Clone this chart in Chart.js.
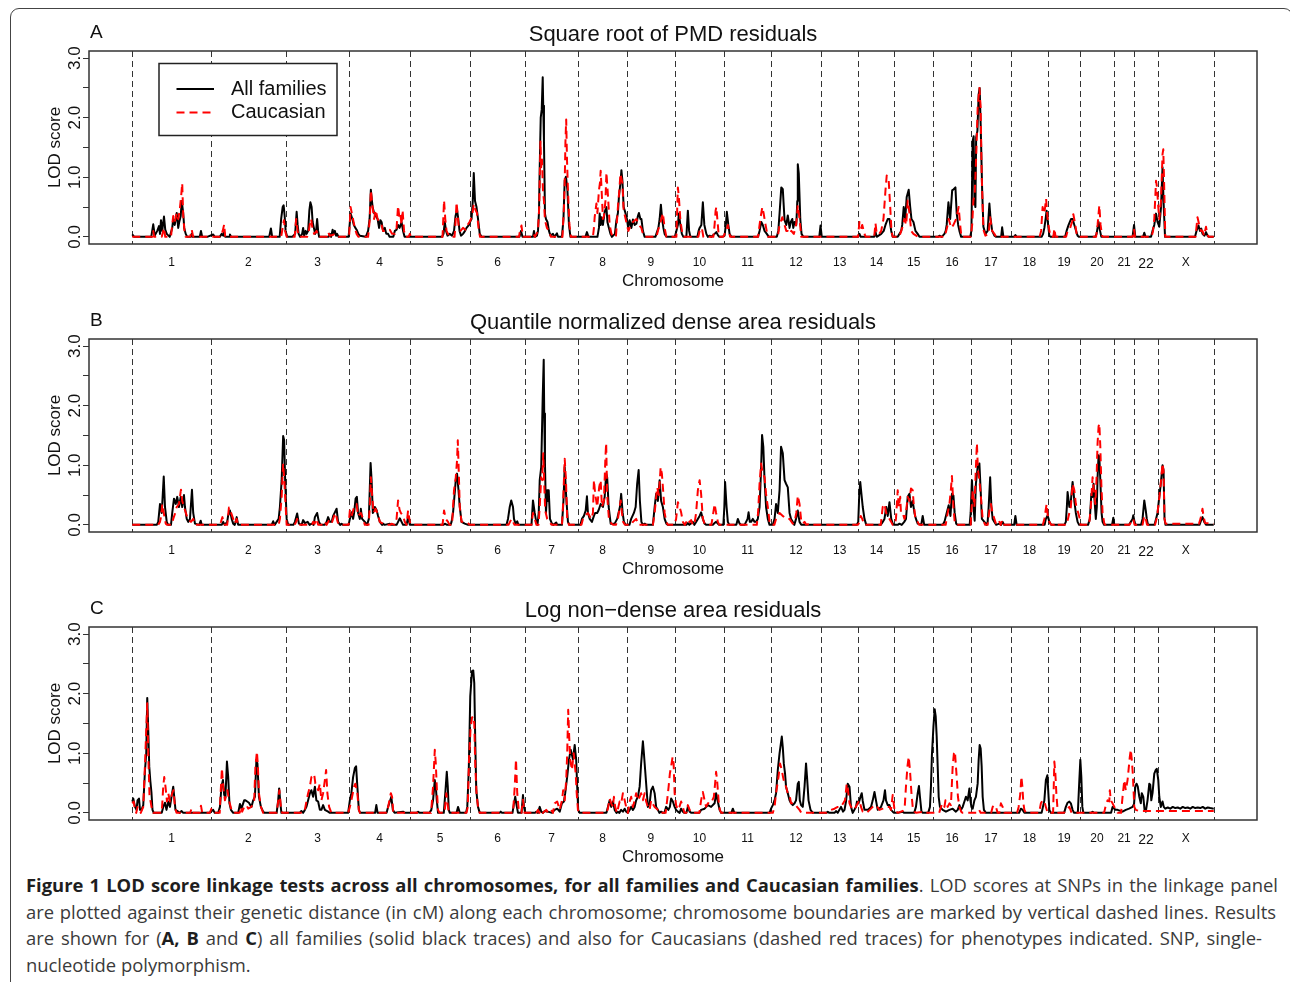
<!DOCTYPE html>
<html>
<head>
<meta charset="utf-8">
<script src="https://cdn.jsdelivr.net/npm/chart.js@4.4.0/dist/chart.umd.min.js"></script>
<style>
  body { margin: 0; width: 1290px; height: 982px; overflow: hidden; position: relative; background: #fff; }
  .frame { position: absolute; left: 10px; top: 8px; width: 1283px; height: 1000px; box-sizing: border-box;
           border: 1.5px solid #444; border-radius: 9px; }
  .panel { position: absolute; left: 0; width: 1290px; height: 288px; }
  #caption { position: absolute; left: 26px; top: 872px; font-family: "Open Sans", sans-serif; font-size: 18.4px;
             line-height: 26.5px; color: #3a3a3a; }
  #caption b { color: #1e1e1e; }
  .ln { white-space: nowrap; text-align: justify; text-align-last: justify; }
  .l1 { width: 1252px; } .l2 { width: 1250px; } .l3 { width: 1236px; }
  .l4 { text-align: left; text-align-last: left; }
</style>
</head>
<body>
<div class="frame"></div>
<div class="panel" style="top:0"><canvas id="pA" width="1290" height="288"></canvas></div>
<div class="panel" style="top:288px"><canvas id="pB" width="1290" height="288"></canvas></div>
<div class="panel" style="top:576px"><canvas id="pC" width="1290" height="288"></canvas></div>
<div id="caption">
  <div class="ln l1"><b>Figure 1 LOD score linkage tests across all chromosomes, for all families and Caucasian families</b>. LOD scores at SNPs in the linkage panel</div>
  <div class="ln l2">are plotted against their genetic distance (in cM) along each chromosome; chromosome boundaries are marked by vertical dashed lines. Results</div>
  <div class="ln l3">are shown for (<b>A, B</b> and <b>C</b>) all families (solid black traces) and also for Caucasians (dashed red traces) for phenotypes indicated. SNP, single-</div>
  <div class="ln l4">nucleotide polymorphism.</div>
</div>
<script>
// chromosomes and their lengths (cM) as laid out along the x axis
const chromNames = ['1','2','3','4','5','6','7','8','9','10','11','12','13','14','15','16','17','18','19','20','21','22','X'];
const chromLengths = [315,299,255,243,240,220,214,194,191,199,186,201,150,144,154,153,159,149,128,135,82,94,224];
const yTicks = [0, 0.5, 1, 1.5, 2, 2.5, 3];
const yLabelTicks = [0, 1, 2, 3];
const panelLetters = ['A', 'B', 'C'];
const panelTitles = ['Square root of PMD residuals', 'Quantile normalized dense area residuals', 'Log non\u2212dense area residuals'];
const seriesNames = ['All families', 'Caucasian'];

// [genome position cM, LOD]  panel A - square root of PMD residuals
const pmdAll = [[0,0.04],[8,0],[76,0],[84,0.21],[90,0.02],[100,0.1],[107,0.18],[111,0.05],[115,0.28],[120,0.1],[127,0.34],[132,0.12],[138,0.05],[150,0],[160,0.15],[164,0.3],[170,0.2],[178,0.4],[184,0.15],[188,0.25],[194,0.35],[198,0.6],[204,0.4],[208,0.15],[214,0.05],[220,0],[234,0],[238,0.05],[242,0],[270,0],[275,0.1],[280,0],
[300,0],[324,0.04],[330,0],[350,0],[358,0.05],[364,0.02],[368,0.08],[372,0],[388,0],[391,0.04],[396,0],[548,0],[555,0.14],[560,0],[590,0],[596,0.3],[602,0.5],[606,0.53],[610,0.35],[614,0.1],[620,0],
[640,0],[652,0.05],[658,0.42],[662,0.2],[666,0.05],[672,0],[680,0.05],[684,0.15],[688,0.02],[694,0.1],[698,0.05],[704,0.1],[709,0.45],[713,0.58],[718,0.5],[722,0.25],[727,0.15],[732,0.05],[736,0.1],[740,0.3],[744,0.1],[748,0],[786,0],[791,0.05],[796,0],[802,0.12],[806,0.05],[811,0.1],[816,0.02],[820,0.05],[826,0],
[866,0],[874,0.39],[881,0.3],[887,0.2],[893,0.15],[898,0.12],[905,0.05],[911,0.02],[935,0],[944,0.1],[950,0.3],[955,0.79],[962,0.5],[968,0.4],[975,0.35],[982,0.3],[988,0.15],[993,0.28],[998,0.25],[1004,0.1],[1011,0.15],[1017,0.05],[1024,0.05],[1030,0],[1045,0],[1051,0.1],[1058,0.12],[1064,0.2],[1070,0.15],[1078,0.25],[1084,0.1],[1090,0],
[1240,0],[1246,0.05],[1251,0.25],[1256,0.1],[1262,0.02],[1271,0.05],[1280,0.02],[1288,0.1],[1294,0.35],[1300,0.45],[1305,0.3],[1310,0.1],[1316,0.02],[1324,0.05],[1332,0.1],[1338,0.15],[1348,0.2],
[1352,0.25],[1358,0.3],[1363,0.6],[1367,1.07],[1372,0.6],[1378,0.5],[1384,0.3],[1391,0.05],[1398,0],[1550,0],[1556,0.1],[1562,0],
[1575,0],[1604,0],[1608,0.1],[1612,0],[1620,0.02],[1624,0.1],[1628,0.4],[1631,1.17],[1635,2.0],[1639,2.14],[1643,2.68],[1645,2.2],[1648,1.6],[1652,0.39],[1656,0.3],[1662,0.25],[1668,0.1],[1674,0.02],[1684,0.05],[1690,0],[1700,0.06],[1704,0],[1720,0],[1726,0.3],[1731,0.95],[1736,1.01],[1742,0.78],[1748,0.2],[1754,0],
[1814,0],[1820,0.08],[1826,0],[1862,0],[1868,0.15],[1871,0.39],[1875,0.2],[1878,0.33],[1884,0.2],[1891,0.42],[1898,0.5],[1902,0.25],[1908,0.15],[1914,0.05],[1920,0],[1932,0.05],[1938,0.28],[1944,0.4],[1948,0.67],[1954,0.9],[1958,1.12],[1962,0.94],[1967,0.5],[1975,0.39],[1980,0.3],
[1985,0.15],[1991,0.28],[1998,0.15],[2004,0.29],[2011,0.2],[2018,0.22],[2024,0.35],[2028,0.4],[2034,0.3],[2038,0.3],[2044,0.1],[2051,0],[2094,0],[2098,0.05],[2106,0.15],[2111,0.3],[2116,0.54],[2121,0.3],[2126,0.15],[2131,0.05],[2138,0],
[2172,0],[2178,0.1],[2184,0.2],[2188,0.39],[2194,0.2],[2200,0.05],[2206,0],[2218,0],[2224,0.44],[2229,0.1],[2234,0],[2262,0],[2267,0.1],[2271,0.15],[2278,0.2],[2284,0.58],[2290,0.2],[2298,0.05],[2304,0],[2311,0.02],[2318,0],[2331,0.05],[2338,0.08],[2344,0.03],[2350,0],
[2360,0],[2371,0.02],[2376,0.2],[2380,0.42],[2386,0.2],[2391,0.05],[2398,0],[2505,0],[2511,0.1],[2518,0.25],[2524,0.2],[2531,0.1],[2540,0.05],[2548,0],
[2580,0],[2586,0.1],[2591,0.39],[2598,0.83],[2604,0.8],[2611,0.28],[2618,0.2],[2624,0.36],[2631,0.15],[2636,0.25],[2642,0.3],[2646,0.15],[2651,0.25],[2658,0.2],[2662,0.6],[2664,1.22],[2668,1.06],[2674,0.3],[2679,0.05],[2686,0],
[2750,0],[2755,0.19],[2760,0],
[2905,0],[2911,0.05],[2916,0],[2970,0],[2975,0.08],[2980,0],[2998,0.05],[3008,0.1],[3015,0.2],[3024,0.3],[3031,0.3],[3038,0.1],[3044,0],
[3064,0],[3071,0.05],[3078,0.1],[3082,0.2],[3088,0.5],[3094,0.3],[3100,0.67],[3108,0.79],[3114,0.5],[3119,0.3],[3127,0.25],[3135,0.1],[3144,0.05],[3151,0],
[3225,0],[3231,0.02],[3240,0],[3251,0.05],[3256,0.1],[3260,0.2],[3267,0.58],[3274,0.3],[3282,0.78],[3288,0.8],[3295,0.83],[3300,0.4],[3306,0.2],[3311,0.1],[3318,0],
[3354,0],[3359,0.1],[3364,1.61],[3368,1.69],[3371,0.6],[3375,0.5],[3378,1.67],[3383,1.78],[3388,2.39],[3392,2.5],[3396,1.89],[3402,0.78],[3407,0.17],[3415,0.05],[3424,0.1],[3431,0.56],[3435,0.33],[3442,0.1],[3451,0.02],[3458,0],[3478,0],[3482,0.16],[3487,0],
[3530,0],[3535,0.03],[3540,0],[3640,0],[3646,0.05],[3651,0.15],[3656,0.3],[3660,0.44],[3666,0.2],[3671,0.02],[3676,0],
[3734,0],[3740,0.1],[3748,0.2],[3758,0.3],[3764,0.3],[3771,0.2],[3778,0.1],[3784,0.02],[3790,0],
[3854,0],[3860,0.05],[3868,0.25],[3874,0.1],[3879,0],
[4004,0],[4010,0.2],[4015,0],
[4046,0],[4051,0.07],[4056,0],[4078,0],[4084,0.1],[4091,0.2],[4098,0.39],[4104,0.25],[4111,0.17],[4118,0.5],[4124,1.17],[4128,0.6],[4134,0],
[4254,0],[4260,0.1],[4268,0.19],[4274,0.1],[4279,0.14],[4284,0.05],[4292,0.02],[4298,0.08],[4304,0.02],[4310,0],[4329,0]];

const pmdCau = [[0,0],[80,0],[84,0.1],[88,0],[118,0],[127,0.15],[132,0],[155,0],[160,0.2],[164,0.35],[170,0.25],[178,0.4],[184,0.3],[190,0.45],[196,0.7],[200,0.9],[204,0.35],[210,0.05],[214,0],[232,0],[238,0.12],[244,0],
[355,0],[362,0.1],[368,0.21],[372,0],[596,0],[602,0.15],[607,0.28],[612,0.1],[618,0],
[650,0],[656,0.3],[662,0.1],[668,0],[700,0],[706,0.08],[712,0.25],[716,0.3],[722,0.12],[728,0.05],[738,0.1],[744,0],[778,0],[784,0.08],[790,0.02],[808,0.04],[814,0],
[868,0],[874,0.5],[881,0.35],[891,0.15],[898,0.05],[905,0],[944,0],[951,0.3],[955,0.78],[962,0.5],[968,0.3],[975,0.45],[982,0.3],[990,0.25],[998,0.2],[1004,0.1],[1011,0.1],[1024,0.1],[1031,0.12],[1040,0.05],[1051,0.05],[1058,0.15],[1064,0.52],[1070,0.3],[1074,0.35],[1078,0.2],[1082,0.45],[1088,0.1],[1094,0],[1106,0],[1111,0.05],[1116,0],
[1242,0],[1248,0.61],[1253,0.3],[1258,0.1],[1264,0.05],[1270,0],[1290,0],[1295,0.3],[1298,0.58],[1302,0.4],[1306,0.2],[1314,0.1],[1324,0.15],[1334,0.12],[1342,0.2],[1350,0.25],
[1356,0.3],[1362,0.4],[1367,0.55],[1374,0.45],[1380,0.4],[1386,0.15],[1392,0],[1548,0],[1552,0.1],[1558,0.19],[1562,0.05],[1566,0],
[1600,0],[1606,0.05],[1612,0],[1624,0.1],[1629,0.5],[1634,1.6],[1637,1.17],[1640,1.3],[1644,0.78],[1648,0.6],[1652,0.28],[1660,0.15],[1668,0.1],[1676,0],[1722,0],[1728,0.5],[1731,0.9],[1734,1.6],[1737,1.97],[1740,1.33],[1744,0.78],[1750,0.2],[1756,0],
[1844,0],[1848,0.15],[1851,0.33],[1858,0.56],[1862,0.4],[1868,0.78],[1872,0.9],[1875,1.11],[1880,0.67],[1884,0.3],[1888,0.35],[1894,0.6],[1898,1.08],[1904,0.7],[1911,0.2],[1918,0.05],[1926,0],[1936,0],[1944,0.5],[1950,0.8],[1954,1.06],[1962,0.9],[1967,0.44],[1975,0.3],[1980,0.2],
[1986,0.1],[1991,0.15],[2004,0.25],[2018,0.3],[2028,0.2],[2038,0.15],[2044,0.05],[2052,0],[2098,0],[2104,0.1],[2111,0.2],[2118,0.3],[2124,0.4],[2131,0.15],[2138,0],
[2178,0],[2184,0.83],[2188,0.67],[2194,0.28],[2202,0.05],[2208,0],[2266,0],[2271,0.1],[2280,0.15],[2286,0],[2326,0],[2331,0.2],[2335,0.44],[2338,0.5],[2342,0.3],[2348,0],
[2366,0],[2371,0.05],[2378,0.1],[2384,0.2],[2393,0],[2505,0],[2511,0.2],[2516,0.35],[2522,0.5],[2527,0.4],[2535,0.2],[2544,0],
[2584,0],[2591,0.2],[2598,0.28],[2602,0.33],[2611,0.2],[2618,0.1],[2624,0.1],[2631,0.05],[2638,0.1],[2648,0.05],[2655,0.15],[2660,0.3],[2664,0.53],[2671,0.3],[2678,0],
[2905,0],[2911,0.25],[2918,0.15],[2922,0.2],[2931,0.05],[2936,0],[2970,0],[2975,0.23],[2980,0.05],[2990,0.05],[2998,0.1],[3007,0.3],[3015,0.78],[3020,1.03],[3028,0.94],[3034,0.5],[3039,0.1],[3044,0],
[3070,0],[3078,0.1],[3086,0.2],[3091,0.3],[3098,0.2],[3104,0.61],[3111,0.4],[3118,0.1],[3127,0.05],[3138,0.02],[3146,0],
[3252,0],[3258,0.1],[3264,0.2],[3268,0.3],[3278,0.15],[3287,0.2],[3298,0.3],[3303,0.4],[3308,0.5],[3314,0.2],[3319,0],
[3356,0],[3362,0.2],[3367,0.61],[3372,0.72],[3378,1.33],[3384,2.17],[3391,2.5],[3396,2.17],[3400,1.06],[3407,0.12],[3415,0.02],[3428,0.05],[3434,0.33],[3442,0.1],[3451,0.05],[3458,0],
[3632,0],[3638,0.1],[3644,0.5],[3651,0.39],[3658,0.64],[3664,0.3],[3671,0.1],[3678,0],[3687,0],[3691,0.14],[3696,0],
[3738,0],[3744,0.1],[3754,0.15],[3762,0.25],[3767,0.38],[3775,0.2],[3780,0.05],[3786,0],
[3858,0],[3864,0.2],[3871,0.53],[3876,0.2],[3882,0.02],[3886,0],
[4005,0],[4010,0.12],[4014,0],
[4080,0],[4086,0.1],[4091,0.3],[4098,0.94],[4102,0.83],[4107,0.5],[4111,0.3],[4118,0.61],[4124,1.39],[4127,1.47],[4131,0.78],[4135,0],
[4256,0],[4264,0.33],[4271,0.2],[4278,0.1],[4284,0.1],[4290,0.02],[4298,0.17],[4303,0.05],[4308,0],[4329,0]];

// panel B - quantile normalized dense area residuals
const qndAll = [[0,0],[98,0],[104,0.05],[111,0.35],[118,0.2],[126,0.81],[131,0.3],[138,0.05],[144,0],[155,0],[160,0.2],[167,0.44],[174,0.35],[180,0.47],[187,0.3],[194,0.47],[200,0.3],[207,0.5],[211,0.3],[218,0.1],[224,0.05],[231,0.1],[239,0.59],[244,0.2],[251,0.02],[268,0],[274,0.07],[278,0],
[358,0],[364,0.05],[370,0],[380,0.05],[384,0.16],[391,0.24],[398,0.1],[404,0.02],[410,0],[414,0.05],[418,0.13],[424,0],[558,0],[564,0.06],[570,0],[578,0.05],[586,0.1],[591,0.3],[598,0.75],[604,1.49],[608,1.42],[612,0.75],[618,0.1],[624,0],
[645,0],[651,0.05],[660,0.19],[667,0.02],[678,0],[684,0.08],[691,0.03],[702,0.05],[710,0],[718,0.02],[726,0],[731,0.13],[740,0.2],[747,0.05],[754,0],[771,0],[778,0.05],[784,0.13],[791,0.05],[798,0.05],[804,0.15],[811,0.21],[818,0.27],[824,0.05],[832,0],[838,0.02],[844,0],
[866,0],[871,0.1],[878,0.21],[884,0.1],[888,0.2],[894,0.44],[899,0.47],[904,0.2],[911,0.1],[915,0.27],[920,0.1],[931,0.05],[940,0],[947,0.1],[954,1.04],[958,0.75],[963,0.2],[971,0.3],[978,0.25],[984,0.15],[991,0.05],[1000,0],[1004,0.02],[1010,0],[1031,0.02],[1036,0],[1058,0],[1064,0.05],[1071,0.11],[1078,0.05],[1084,0],[1098,0],[1104,0.13],[1111,0],
[1245,0],[1251,0.02],[1260,0],[1274,0],[1278,0.05],[1284,0.2],[1290,0.5],[1295,0.75],[1300,0.86],[1306,0.58],[1311,0.3],[1318,0.05],[1331,0.02],[1344,0],
[1498,0],[1504,0.1],[1511,0.3],[1517,0.41],[1524,0.3],[1528,0.1],[1534,0.02],[1541,0.06],[1546,0],
[1598,0],[1604,0.41],[1611,0.2],[1617,0.05],[1622,0],[1627,0.2],[1631,0.75],[1637,0.97],[1643,2.15],[1647,2.77],[1649,1.87],[1652,1.03],[1656,0.2],[1661,0.58],[1664,0.4],[1667,0.58],[1672,0.1],[1680,0.02],[1686,0],[1697,0.04],[1701,0],[1720,0],[1726,0.4],[1731,0.97],[1737,0.47],[1744,0.05],[1750,0],
[1794,0],[1800,0.1],[1808,0.15],[1815,0.24],[1820,0.48],[1824,0.2],[1831,0.1],[1840,0.05],[1848,0.15],[1853,0.2],[1861,0.2],[1867,0.25],[1875,0.35],[1884,0.3],[1891,0.47],[1897,0.86],[1901,0.8],[1907,0.3],[1915,0.02],[1931,0.02],[1941,0.1],[1952,0.3],[1957,0.52],[1963,0.2],[1968,0.05],[1975,0],
[1990,0],[1997,0.1],[2008,0.2],[2015,0.3],[2021,0.69],[2027,0.92],[2032,0.4],[2038,0.05],[2044,0],[2051,0.02],[2058,0],[2084,0],[2091,0.3],[2097,0.52],[2104,0.4],[2111,0.75],[2117,0.4],[2124,0.3],[2131,0.1],[2138,0.02],[2144,0],
[2218,0],[2224,0.03],[2230,0],[2244,0.05],[2250,0],[2257,0.05],[2264,0.1],[2271,0.15],[2277,0.21],[2284,0.1],[2291,0.02],[2298,0],[2324,0],[2331,0.03],[2337,0.05],[2344,0.02],[2350,0],[2366,0],[2370,0.3],[2373,0.72],[2379,0.3],[2384,0.05],[2390,0],
[2418,0],[2424,0.1],[2431,0.02],[2438,0],[2451,0],[2457,0.05],[2463,0.1],[2467,0.21],[2472,0.05],[2477,0.05],[2484,0.1],[2491,0.05],[2497,0.05],[2504,0.1],[2511,0.3],[2517,0.92],[2521,1.51],[2526,1.31],[2531,0.75],[2537,0.3],[2544,0.1],[2551,0],
[2564,0],[2571,0.1],[2577,0.35],[2584,0.2],[2591,0.58],[2597,1.31],[2604,1.2],[2611,0.75],[2617,0.69],[2624,0.63],[2631,0.2],[2637,0.1],[2644,0.05],[2650,0],[2657,0.1],[2664,0.24],[2671,0.05],[2678,0],
[2900,0],[2906,0.05],[2910,0.5],[2914,0.72],[2918,0.55],[2924,0.3],[2931,0.1],[2938,0],
[2996,0],[3004,0.05],[3011,0.1],[3018,0.3],[3024,0.15],[3031,0.38],[3038,0.1],[3044,0.02],[3050,0],
[3064,0],[3071,0.02],[3080,0],[3090,0.05],[3097,0.1],[3104,0.47],[3111,0.52],[3117,0.3],[3124,0.4],[3131,0.2],[3137,0.1],[3144,0.02],[3158,0],[3164,0.15],[3170,0],
[3244,0],[3251,0.05],[3260,0.2],[3268,0.33],[3275,0.15],[3281,0.52],[3287,0.49],[3292,0.2],[3298,0.02],[3304,0],
[3352,0],[3356,0.2],[3361,0.75],[3367,0.3],[3372,0.07],[3377,0.69],[3384,0.97],[3391,1.03],[3396,0.58],[3401,0.1],[3411,0.05],[3420,0],[3424,0.05],[3428,0.3],[3434,0.8],[3439,0.3],[3444,0.1],[3451,0.05],[3458,0],[3471,0.02],[3478,0],[3484,0.05],[3490,0],
[3530,0],[3535,0.15],[3540,0],[3652,0],[3657,0.1],[3664,0.16],[3671,0.05],[3678,0],
[3731,0],[3737,0.05],[3741,0.3],[3744,0.55],[3751,0.3],[3757,0.4],[3764,0.72],[3771,0.4],[3777,0.2],[3784,0.05],[3790,0],
[3826,0],[3833,0.1],[3839,0.52],[3844,0.47],[3848,0.69],[3852,0.4],[3857,0.1],[3861,0.3],[3864,0.8],[3868,1.17],[3871,1.14],[3875,0.75],[3880,0.2],[3884,0.05],[3890,0],[3922,0],[3927,0.12],[3931,0],
[3990,0],[3997,0.05],[4004,0.1],[4007,0.16],[4012,0.05],[4016,0],
[4038,0],[4044,0.1],[4051,0.41],[4057,0.24],[4061,0.1],[4066,0],[4092,0],[4098,0.1],[4104,0.2],[4111,0.47],[4117,0.69],[4124,1.0],[4128,0.92],[4132,0.1],[4136,0],
[4272,0],[4278,0.07],[4284,0.13],[4291,0.05],[4298,0],[4329,0]];

const qndCau = [[0,0],[104,0],[111,0.05],[116,0.15],[120,0.35],[126,0.2],[134,0.02],[140,0],[158,0],[164,0.1],[172,0.2],[178,0.3],[187,0.35],[195,0.59],[200,0.4],[211,0.25],[222,0.1],[235,0.05],[244,0.1],[251,0],
[350,0],[355,0.05],[361,0.13],[366,0.03],[371,0],[380,0],[387,0.29],[395,0.21],[404,0.1],[410,0.02],[418,0.1],[424,0],[586,0],[591,0.1],[598,0.47],[604,1.03],[608,0.8],[612,0.47],[618,0],
[650,0],[656,0.05],[660,0.1],[666,0],[720,0],[724,0.05],[730,0.02],[738,0.1],[744,0],[766,0],[771,0.05],[778,0],[791,0.1],[800,0.05],[808,0.15],[814,0.2],[822,0.05],[828,0],
[866,0],[871,0.24],[878,0.15],[888,0.3],[898,0.35],[904,0.15],[915,0.2],[924,0.1],[931,0],[946,0],[951,0.3],[955,0.8],[960,0.5],[966,0.2],[974,0.27],[982,0.19],[991,0.05],[1004,0.02],[1012,0],[1032,0],[1038,0.02],[1050,0],[1058,0.1],[1064,0.41],[1070,0.25],[1075,0.2],[1084,0.15],[1091,0.05],[1098,0],[1104,0.24],[1111,0.05],[1116,0],
[1242,0],[1248,0.24],[1255,0.1],[1264,0.05],[1270,0],[1280,0],[1284,0.3],[1288,0.58],[1295,0.8],[1300,1.08],[1303,1.42],[1306,1.03],[1311,0.3],[1318,0.05],[1331,0.05],[1338,0.05],[1351,0],
[1506,0],[1512,0.05],[1518,0.1],[1524,0.05],[1530,0],
[1598,0],[1604,0.2],[1611,0.1],[1618,0],[1626,0],[1631,0.3],[1637,0.8],[1641,0.75],[1645,1.2],[1649,0.69],[1653,0.24],[1661,0.1],[1671,0.05],[1678,0],[1720,0],[1724,0.3],[1731,1.11],[1736,0.75],[1741,0.1],[1748,0],
[1798,0],[1804,0.1],[1811,0.15],[1824,0.2],[1837,0.1],[1844,0.2],[1848,0.75],[1853,0.52],[1861,0.3],[1869,0.63],[1875,0.75],[1880,0.3],[1888,0.4],[1894,1.14],[1897,1.37],[1901,0.5],[1908,0.1],[1918,0.02],[1926,0],[1936,0],[1944,0.1],[1955,0.41],[1960,0.2],[1965,0.05],[1972,0],
[1998,0],[2004,0.05],[2017,0.1],[2026,0],[2084,0],[2091,0.2],[2101,0.63],[2108,0.5],[2115,0.97],[2120,0.86],[2125,0.58],[2131,0.2],[2138,0.05],[2144,0],
[2170,0],[2177,0.1],[2184,0.38],[2191,0.3],[2197,0.21],[2204,0.05],[2212,0],[2224,0.1],[2231,0.05],[2237,0.08],[2244,0],[2250,0],[2257,0.2],[2264,0.58],[2271,0.75],[2277,0.52],[2284,0.1],[2291,0.02],[2298,0],[2318,0],[2324,0.15],[2331,0.35],[2337,0.2],[2344,0.05],[2350,0],
[2500,0],[2505,0.2],[2511,0.69],[2517,1.03],[2524,0.86],[2531,0.8],[2537,0.52],[2544,0.3],[2551,0.05],[2556,0],
[2570,0],[2577,0.1],[2591,0.2],[2604,0.15],[2617,0.1],[2631,0.1],[2644,0.02],[2651,0.05],[2658,0.2],[2664,0.49],[2671,0.35],[2677,0.1],[2684,0.02],[2691,0.05],[2698,0],[2711,0.02],[2718,0],
[2905,0],[2912,0.05],[2916,0.15],[2922,0.1],[2930,0],
[2996,0],[3004,0.3],[3011,0.35],[3018,0.2],[3024,0.15],[3031,0.1],[3038,0.05],[3044,0],
[3052,0],[3057,0.1],[3064,0.58],[3068,0.3],[3074,0.47],[3077,0.2],[3084,0.2],[3091,0.1],[3097,0.2],[3104,0.47],[3111,0.4],[3117,0.61],[3124,0.58],[3128,0.35],[3135,0.1],[3144,0.05],[3150,0],
[3256,0],[3264,0.2],[3271,0.35],[3277,0.6],[3281,0.82],[3287,0.3],[3292,0.05],[3298,0],
[3356,0],[3364,0.58],[3371,0.3],[3377,0.97],[3381,1.37],[3385,0.92],[3391,0.75],[3397,0.47],[3404,0.1],[3414,0],[3424,0],[3431,0.24],[3437,0.35],[3444,0.19],[3451,0.1],[3457,0.02],[3466,0],[3471,0.05],[3476,0],[3482,0.08],[3487,0.02],[3492,0],
[3645,0],[3651,0.1],[3660,0.35],[3666,0.1],[3671,0.05],[3678,0],[3692,0],[3697,0.03],[3702,0],
[3740,0],[3751,0.2],[3757,0.3],[3764,0.69],[3771,0.58],[3777,0.35],[3784,0.24],[3791,0.13],[3796,0],
[3830,0],[3837,0.3],[3844,0.8],[3849,0.58],[3855,0.35],[3860,0.8],[3864,1.37],[3868,1.65],[3871,1.7],[3875,1.31],[3879,0.69],[3884,0.2],[3891,0.02],[3896,0],
[3992,0],[3998,0.05],[4007,0.1],[4012,0],
[4044,0],[4051,0.15],[4057,0.1],[4062,0],[4094,0],[4100,0.1],[4104,0.2],[4111,0.45],[4117,0.7],[4124,1.03],[4128,0.9],[4132,0.1],[4136,0.02],
[4200,0.02],[4270,0.02],[4276,0.1],[4284,0.27],[4288,0.15],[4294,0.03],[4329,0.02]];

// panel C - log non-dense area residuals
const lndAll = [[0,0.19],[4,0.24],[11,0.1],[17,0.05],[21,0.21],[27,0.24],[31,0.05],[37,0.05],[44,0.13],[51,0.72],[56,1.0],[60,1.93],[64,1.39],[68,0.78],[72,0.55],[77,0.33],[81,0.05],[86,0],[118,0],[124,0.1],[131,0.17],[137,0.05],[144,0.19],[151,0.1],[157,0.27],[164,0.44],[168,0.27],[173,0.05],[184,0.02],[190,0],[197,0.03],[204,0],
[310,0],[317,0.03],[324,0.05],[330,0],[344,0],[351,0.1],[357,0.44],[363,0.55],[368,0.3],[373,0.27],[379,0.86],[384,0.6],[389,0.16],[395,0.05],[404,0],[424,0],[431,0.15],[437,0.07],[448,0.21],[453,0.21],[460,0.19],[467,0.17],[477,0.1],[484,0.21],[491,0.27],[497,0.89],[501,0.83],[507,0.27],[515,0.1],[524,0.02],[530,0],[578,0],[584,0.21],[588,0.41],[593,0.16],[597,0],
[670,0],[677,0.03],[684,0],[691,0.05],[697,0.1],[704,0.21],[711,0.33],[717,0.38],[724,0.27],[731,0.44],[737,0.21],[744,0.19],[751,0.05],[757,0.05],[764,0.13],[771,0.05],[784,0.02],[791,0],
[864,0],[871,0.21],[877,0.33],[884,0.6],[891,0.75],[896,0.78],[901,0.44],[907,0.05],[912,0],[972,0],[977,0.13],[982,0],[1018,0],[1024,0.1],[1031,0.19],[1037,0.27],[1043,0.05],[1050,0],[1084,0.02],[1091,0],
[1138,0],[1144,0.02],[1150,0],[1190,0],[1197,0.05],[1204,0.21],[1211,0.55],[1215,0.44],[1219,0.21],[1224,0],[1247,0],[1253,0.33],[1259,0.69],[1263,0.44],[1267,0.05],[1271,0],[1298,0],[1304,0.1],[1311,0],
[1336,0],[1341,0.1],[1347,0.72],[1353,1.96],[1360,2.38],[1365,2.39],[1369,2.18],[1373,1.2],[1377,0.38],[1384,0.1],[1391,0],[1470,0],[1475,0.02],[1480,0],[1522,0],[1528,0.16],[1533,0.27],[1537,0.16],[1544,0],[1558,0],[1564,0.3],[1568,0.1],[1573,0],
[1612,0],[1617,0.02],[1624,0],[1631,0.1],[1637,0.02],[1644,0],[1651,0.03],[1664,0.02],[1680,0],[1691,0.05],[1701,0.07],[1711,0.02],[1720,0.16],[1728,0.19],[1733,0.33],[1741,0.61],[1748,0.89],[1755,1.06],[1764,0.9],[1771,1.14],[1777,0.89],[1781,0.44],[1785,0.05],[1791,0],
[1898,0],[1904,0.1],[1911,0.21],[1917,0.1],[1924,0.19],[1931,0.05],[1938,0],[1944,0.02],[1950,0],[1957,0.05],[1964,0.02],[1971,0.07],[1977,0.02],
[1984,0],[1991,0.05],[1997,0.1],[2004,0.05],[2011,0.1],[2017,0.21],[2024,0.27],[2031,0.44],[2037,0.83],[2044,1.2],[2048,1.0],[2053,0.72],[2059,0.38],[2064,0.1],[2071,0.16],[2077,0.38],[2084,0.44],[2091,0.33],[2097,0.1],[2104,0.05],[2110,0],[2117,0.02],[2124,0],[2130,0],[2137,0.1],[2146,0.05],[2152,0.1],[2157,0.24],[2164,0.19],[2171,0.1],[2177,0.05],[2184,0.02],[2191,0],[2197,0.07],[2204,0.02],[2210,0],[2218,0],[2224,0.1],[2231,0.02],[2238,0],
[2270,0],[2277,0.05],[2291,0.07],[2304,0.13],[2317,0.1],[2331,0.16],[2337,0.33],[2344,0.19],[2351,0.05],[2357,0],
[2398,0],[2404,0.07],[2410,0],
[2551,0],[2557,0.07],[2564,0.13],[2571,0.21],[2577,0.33],[2584,0.72],[2591,1.0],[2600,1.28],[2604,1.1],[2608,0.83],[2613,0.66],[2617,0.44],[2624,0.33],[2631,0.21],[2637,0.16],[2644,0.13],[2651,0.16],[2657,0.21],[2664,0.49],[2668,0.52],[2672,0.21],[2677,0.13],[2684,0.1],[2691,0.44],[2697,0.83],[2701,0.6],[2707,0.21],[2715,0.05],[2724,0],
[2778,0],[2784,0.02],[2790,0],[2811,0],[2817,0.03],[2824,0],[2837,0.1],[2845,0.02],[2851,0.05],[2857,0.19],[2864,0.49],[2871,0.44],[2877,0.1],[2884,0],[2897,0.1],[2901,0.19],[2907,0.16],[2911,0.21],[2915,0.27],[2920,0.33],[2924,0.2],[2931,0.05],[2944,0.05],[2957,0.1],[2964,0.21],[2971,0.35],[2977,0.21],[2984,0.05],[2997,0.1],[3007,0.21],[3013,0.38],[3017,0.21],[3024,0.13],[3031,0.13],[3037,0.05],[3044,0.02],[3050,0],
[3064,0],[3084,0.02],[3090,0],[3130,0],[3137,0.1],[3144,0.33],[3149,0.45],[3153,0.27],[3159,0.02],[3165,0],
[3186,0],[3193,0.1],[3197,0.44],[3201,0.98],[3207,1.45],[3212,1.74],[3216,1.62],[3220,1.28],[3224,0.78],[3228,0.27],[3233,0.1],[3244,0.05],[3257,0.02],[3271,0.05],[3284,0.07],[3297,0.02],[3304,0.05],[3311,0.13],[3317,0.05],[3324,0.1],[3331,0.19],[3337,0.27],[3344,0.21],[3351,0.41],[3355,0.21],[3359,0.1],
[3364,0.07],[3371,0.21],[3377,0.27],[3384,0.49],[3388,0.89],[3392,1.14],[3396,1.08],[3400,0.78],[3404,0.27],[3409,0.05],[3417,0],
[3550,0],[3557,0.07],[3564,0.05],[3571,0],[3640,0],[3651,0.21],[3657,0.55],[3663,0.63],[3667,0.33],[3671,0.05],[3677,0],
[3730,0],[3737,0.1],[3744,0.17],[3751,0.19],[3757,0.16],[3764,0.05],[3770,0],[3785,0],[3791,0.55],[3795,0.89],[3799,0.6],[3803,0.1],[3807,0],
[3838,0],[3844,0.02],[3850,0],[3918,0],[3924,0.1],[3931,0.07],[3937,0.05],
[3944,0.05],[3964,0.02],[3977,0.05],[3990,0.07],[4004,0.1],[4010,0.15],[4015,0.44],[4020,0.49],[4025,0.44],[4031,0.27],[4037,0.16],[4041,0.33],[4047,0.27],[4052,0.05],[4057,0.02],
[4064,0.21],[4071,0.49],[4075,0.47],[4079,0.21],[4084,0.33],[4091,0.66],[4097,0.72],[4101,0.74],[4107,0.55],[4111,0.27],[4117,0.1],[4124,0.19],[4129,0.1],[4135,0.07],[4145,0.09],[4155,0.07],[4165,0.1],[4175,0.08],[4185,0.09],[4195,0.07],[4205,0.1],[4215,0.08],[4225,0.09],[4235,0.07],[4245,0.1],[4255,0.08],[4265,0.09],[4275,0.08],[4285,0.1],[4295,0.07],[4305,0.09],[4315,0.08],[4329,0.07]];

const lndCau = [[0,0.16],[6,0.19],[11,0.05],[16,0],[21,0.1],[27,0.05],[34,0],[44,0.1],[51,0.83],[56,1.39],[60,1.84],[64,1.0],[69,0.3],[77,0.1],[84,0],[118,0],[124,0.44],[128,0.6],[133,0.44],[139,0.19],[144,0.33],[151,0.19],[160,0.33],[165,0.38],[171,0.1],[177,0],[232,0],[237,0.07],[242,0],[270,0],[275,0.12],[280,0],
[310,0],[317,0.07],[324,0.03],[330,0],[350,0],[355,0.44],[359,0.75],[364,0.44],[371,0.21],[381,0.38],[387,0.21],[397,0.05],[404,0],[430,0],[435,0.1],[440,0.02],[448,0.1],[457,0.13],[464,0.07],[477,0.1],[488,0.21],[493,0.78],[499,1.03],[503,0.78],[507,0.33],[515,0.1],[524,0],[578,0],[584,0.19],[589,0.38],[595,0.1],[600,0],
[684,0],[691,0.05],[697,0.19],[704,0.33],[711,0.44],[717,0.6],[728,0.65],[733,0.49],[744,0.38],[751,0.49],[757,0.21],[764,0.33],[771,0.55],[776,0.72],[781,0.33],[788,0.1],[797,0],
[864,0],[871,0.1],[877,0.21],[888,0.44],[893,0.49],[901,0.33],[907,0.05],[912,0],[1020,0],[1027,0.16],[1035,0.33],[1040,0.27],[1045,0],
[1196,0],[1204,0.44],[1211,1.06],[1215,0.83],[1220,0.33],[1224,0.05],[1230,0],[1250,0],[1257,0.33],[1261,0.19],[1267,0],
[1338,0],[1343,0.1],[1348,0.89],[1354,1.4],[1360,1.6],[1365,1.62],[1369,1.5],[1373,0.8],[1378,0.33],[1384,0.1],[1391,0],[1524,0],[1531,0.44],[1536,0.9],[1541,0.33],[1547,0.05],[1552,0],[1558,0],[1564,0.22],[1570,0],
[1618,0],[1624,0.05],[1630,0],[1637,0.05],[1644,0],[1657,0.05],[1664,0],[1677,0.05],[1684,0],[1691,0.16],[1701,0.19],[1711,0.05],[1720,0.21],[1725,0.38],[1731,0.21],[1737,0.55],[1741,1.0],[1745,1.73],[1749,1.28],[1753,0.89],[1760,0.72],[1767,1.0],[1771,0.83],[1775,0.66],[1779,0.33],[1784,0.05],[1790,0],
[1898,0],[1904,0.07],[1911,0.24],[1917,0.16],[1924,0.1],[1928,0.27],[1933,0.1],[1940,0],[1951,0.19],[1957,0.16],[1964,0.33],[1971,0.21],[1977,0.1],
[1984,0],[1991,0.19],[1997,0.27],[2004,0.1],[2011,0.21],[2017,0.33],[2024,0.21],[2031,0.27],[2037,0.33],[2044,0.21],[2051,0.33],[2057,0.19],[2064,0.1],[2071,0.05],[2077,0.21],[2084,0.15],[2091,0.1],[2104,0.05],[2110,0],[2135,0],[2141,0.21],[2147,0.44],[2152,0.66],[2157,0.78],[2163,0.94],[2167,0.83],[2171,0.33],[2177,0.13],[2184,0.05],[2190,0.1],[2197,0.19],[2204,0.1],[2210,0],[2218,0],[2224,0.13],[2231,0.05],[2238,0],
[2270,0],[2277,0.21],[2284,0.35],[2291,0.21],[2297,0.1],[2304,0.16],[2317,0.16],[2328,0.27],[2333,0.49],[2337,0.69],[2341,0.55],[2347,0.21],[2352,0.05],[2358,0],
[2564,0],[2571,0.1],[2577,0.33],[2587,0.61],[2593,0.83],[2600,0.72],[2605,0.6],[2611,0.49],[2617,0.44],[2624,0.33],[2631,0.3],[2637,0.16],[2651,0.16],[2661,0.1],[2671,0.05],[2678,0],
[2778,0],[2784,0.02],[2797,0.05],[2811,0.07],[2824,0.1],[2837,0.1],[2853,0.21],[2860,0.49],[2865,0.38],[2871,0.16],[2877,0.1],[2890,0.05],[2904,0.16],[2911,0.21],[2917,0.1],[2924,0.02],[2940,0],[2964,0.1],[2977,0.13],[2991,0.05],[3004,0.07],[3017,0.1],[3031,0.1],[3037,0.05],[3044,0.3],[3048,0.16],[3052,0.02],
[3057,0.03],[3064,0],[3084,0.03],[3092,0.1],[3097,0.44],[3103,0.78],[3108,0.94],[3113,0.72],[3119,0.33],[3124,0.1],[3131,0.02],[3138,0],[3171,0.02],[3176,0],
[3230,0],[3237,0.1],[3244,0.16],[3251,0.1],[3255,0.21],[3264,0.1],[3271,0.16],[3277,0.13],[3284,0.78],[3289,1.0],[3293,1.03],[3297,0.78],[3301,0.55],[3305,0.27],[3311,0.1],[3318,0.02],[3324,0],
[3384,0],[3390,0.05],[3396,0],[3438,0],[3444,0.1],[3451,0.13],[3457,0.1],[3464,0],[3471,0],[3477,0.16],[3484,0.1],[3491,0],
[3542,0],[3548,0.1],[3555,0.33],[3559,0.61],[3563,0.44],[3567,0.16],[3571,0.05],[3577,0],[3630,0],[3637,0.16],[3644,0.21],[3651,0.19],[3657,0.1],[3664,0],[3686,0],[3691,0.86],[3695,0.66],[3699,0.33],[3703,0.1],[3707,0],
[3730,0],[3737,0.05],[3751,0.1],[3760,0],
[3890,0],[3897,0.13],[3904,0.21],[3911,0.19],[3913,0.38],[3917,0.21],[3924,0.16],[3931,0.1],
[3937,0.05],[3944,0],[3958,0],[3964,0.27],[3971,0.55],[3977,0.38],[3984,0.55],[3988,0.72],[3993,0.94],[3997,1.06],[4001,0.89],[4005,0.66],[4011,0.1],[4017,0.05],
[4030,0.03],[4060,0.03],[4100,0.03],[4150,0.03],[4200,0.03],[4250,0.03],[4300,0.03],[4329,0.03]];

const panelSeries = [[pmdAll, pmdCau], [qndAll, qndCau], [lndAll, lndCau]];

// chromosome boundaries and label positions derived from the lengths
const boundaries = [0];
chromLengths.forEach(l => boundaries.push(boundaries[boundaries.length - 1] + l));
const chromMid = chromLengths.map((l, i) => boundaries[i] + l / 2);
const genomeEnd = boundaries[boundaries.length - 1];
const pad = genomeEnd * 0.04;

const FONT = '"Liberation Sans", Arial, Helvetica, sans-serif';
Chart.defaults.font.family = FONT;
Chart.defaults.color = '#111';

const toXY = arr => arr.map(p => ({ x: p[0], y: p[1] }));

const panelDecor = {
  id: 'panelDecor',
  beforeDatasetsDraw(chart) {
    const { ctx, chartArea: a, scales: { x } } = chart;
    ctx.save();
    ctx.strokeStyle = '#333';
    ctx.lineWidth = 1;
    ctx.setLineDash([6, 4]);
    boundaries.forEach(b => {
      const px = Math.round(x.getPixelForValue(b)) + 0.5;
      ctx.beginPath();
      ctx.moveTo(px, a.top);
      ctx.lineTo(px, a.bottom);
      ctx.stroke();
    });
    ctx.restore();
  },
  afterDraw(chart, args, opts) {
    const { ctx, chartArea: a, scales: { y } } = chart;
    ctx.save();
    ctx.strokeStyle = '#333';
    ctx.lineWidth = 1.5;
    ctx.strokeRect(a.left, a.top, a.right - a.left, a.bottom - a.top);

    // y tick labels, rotated like R's default axis
    ctx.fillStyle = '#111';
    ctx.font = '17px ' + FONT;
    ctx.textAlign = 'center';
    ctx.textBaseline = 'middle';
    yLabelTicks.forEach(v => {
      ctx.save();
      ctx.translate(a.left - 14, y.getPixelForValue(v));
      ctx.rotate(-Math.PI / 2);
      ctx.fillText(v.toFixed(1), 0, 0);
      ctx.restore();
    });

    // panel letter
    ctx.textAlign = 'left';
    ctx.font = '19px ' + FONT;
    ctx.fillText(opts.letter, a.left + 1, 33);

    if (opts.legend) {
      const lx = a.left + 70, ly = a.top + 12.5, lw = 178, lh = 72;
      ctx.fillStyle = '#fff';
      ctx.fillRect(lx, ly, lw, lh);
      ctx.strokeStyle = '#222';
      ctx.lineWidth = 1.5;
      ctx.strokeRect(lx, ly, lw, lh);
      chart.data.datasets.slice().sort((p, q) => q.order - p.order).forEach((ds, i) => {
        const yy = ly + 25.5 + i * 23.5;
        ctx.strokeStyle = ds.borderColor;
        ctx.lineWidth = 2;
        ctx.setLineDash(ds.borderDash || []);
        ctx.beginPath();
        ctx.moveTo(lx + 17.5, yy);
        ctx.lineTo(lx + 55, yy);
        ctx.stroke();
        ctx.setLineDash([]);
        ctx.fillStyle = '#111';
        ctx.font = '20px ' + FONT;
        ctx.textBaseline = 'middle';
        ctx.fillText(ds.label, lx + 72, yy);
      });
    }
    ctx.restore();
  }
};

function makePanel(id, idx) {
  const [all, cau] = panelSeries[idx];
  new Chart(document.getElementById(id), {
    type: 'line',
    data: {
      datasets: [
        { label: seriesNames[0], data: toXY(all), borderColor: '#000000', borderWidth: 2,
          pointRadius: 0, tension: 0, borderJoinStyle: 'round', order: 2 },
        { label: seriesNames[1], data: toXY(cau), borderColor: '#ff0000', borderWidth: 2,
          borderDash: [8, 5], pointRadius: 0, tension: 0, borderJoinStyle: 'round', order: 1 }
      ]
    },
    options: {
      responsive: false,
      animation: false,
      events: [],
      layout: { padding: { left: 0, right: 33, top: 0, bottom: 0 }, autoPadding: false },
      plugins: {
        legend: { display: false },
        tooltip: { enabled: false },
        title: {
          display: true, text: panelTitles[idx], fullSize: false,
          font: { size: 22, weight: 'normal' }, color: '#111',
          padding: { top: 22, bottom: 2.6 }
        },
        panelDecor: { letter: panelLetters[idx], legend: idx === 0 }
      },
      scales: {
        x: {
          type: 'linear', min: -pad, max: genomeEnd + pad,
          grid: { display: false, drawTicks: false },
          border: { display: false },
          afterBuildTicks: s => { s.ticks = chromMid.map(v => ({ value: v })); },
          afterFit: s => { s.height = 44; },
          ticks: {
            autoSkip: false, maxRotation: 0, minRotation: 0, padding: 11.5, color: '#111',
            font: c => ({ size: chromNames[c.index] === '22' ? 14 : 12 }),
            callback: (v, i) => chromNames[i]
          },
          title: { display: true, text: 'Chromosome', font: { size: 17, lineHeight: 1 }, padding: { top: 0, bottom: -1.5 }, color: '#111' }
        },
        y: {
          min: -0.12, max: 3.12,
          afterBuildTicks: s => { s.ticks = yTicks.map(v => ({ value: v })); },
          afterFit: s => { s.width = 89; },
          grid: { drawOnChartArea: false, drawTicks: true, tickLength: 6, color: '#333', lineWidth: 1 },
          border: { display: false },
          ticks: { display: false },
          title: { display: true, text: 'LOD score', font: { size: 17 }, padding: { top: 45, bottom: 0 }, color: '#111' }
        }
      }
    },
    plugins: [panelDecor]
  });
}

makePanel('pA', 0);
makePanel('pB', 1);
makePanel('pC', 2);
</script>
</body>
</html>
